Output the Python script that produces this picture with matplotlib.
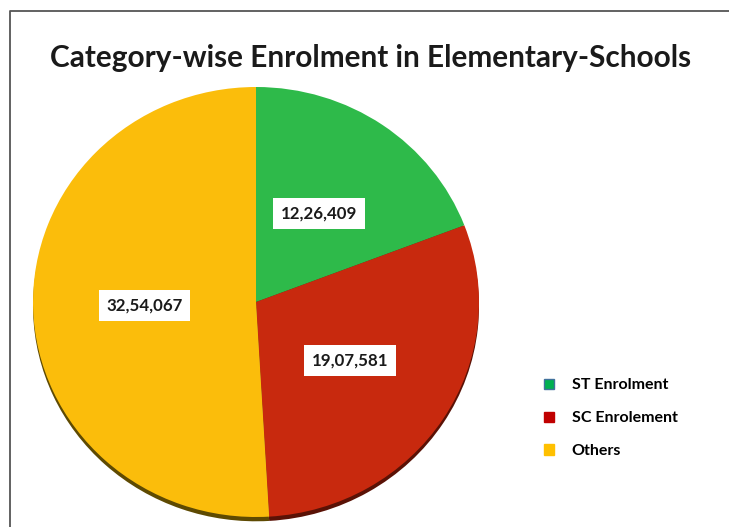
import numpy as np
import matplotlib.pyplot as plt
from matplotlib.patches import Patch
from matplotlib.lines import Line2D

# Dados do gráfico
categorias = ["ST Enrolment", "SC Enrolement", "Others"]
valores = [1226409, 1907581, 3254067]
cores = ["#2EBA4A", "#C8290E", "#FBBD0B"]
cores_legenda = ["#00B050", "#C00000", "#FFC000"]
bordas_legenda = ["#41719C", "#C00000", "#FFC000"]
cores_sombra = ["#1f5a24", "#5a1206", "#5e4a02"]

titulo = "Category-wise Enrolment in Elementary-Schools"


# Formato indiano de números (12,26,409)
def formato_indiano(n):
    s = str(int(n))
    if len(s) <= 3:
        return s
    ultimos = s[-3:]
    resto = s[:-3]
    grupos = []
    while len(resto) > 2:
        grupos.insert(0, resto[-2:])
        resto = resto[:-2]
    if resto:
        grupos.insert(0, resto)
    return ",".join(grupos) + "," + ultimos


plt.rcParams['font.family'] = ['Lato', 'DejaVu Sans']

W, H = 729, 527
fig = plt.figure(figsize=(W / 100, H / 100), dpi=100)

# Moldura (só esquerda e topo aparecem)
fig.add_artist(Line2D([10 / W, 10 / W, 1.05], [-0.05, 1 - 11 / H, 1 - 11 / H],
                      transform=fig.transFigure, color="#555555",
                      linewidth=1.3))

# Título
fig.text(371 / W, 1 - 58 / H, titulo, ha="center", va="center",
         fontsize=21.4, fontweight="bold", color="#1a1a1a")

# Eixo da pizza
ax = fig.add_axes([33 / W, 10 / H, 446 / W, 430 / H])

# Sombra
ax.pie(valores, colors=cores_sombra, startangle=90, counterclock=False,
       radius=1.0, center=(0.0, -0.02), wedgeprops=dict(linewidth=0),
       frame=True)

wedges, textos, autotextos = ax.pie(
    valores, colors=cores, startangle=90, counterclock=False,
    radius=1.0, center=(0.0, 0.0), autopct="%1.0f", pctdistance=0.5,
    wedgeprops=dict(linewidth=0), frame=True)
ax.set_xlim(-1, 1)
ax.set_ylim(-1.0, 1.0)
ax.set_aspect("auto")
ax.axis("off")

for t, v in zip(autotextos, valores):
    t.set_text(formato_indiano(v))
    t.set_fontsize(12.2)
    t.set_fontweight("bold")
    t.set_color("#1a1a1a")
    t.set_bbox(dict(facecolor="white", edgecolor="none", pad=5.5))

# Legenda
handles = [Patch(facecolor=c, edgecolor=b) for c, b in zip(cores_legenda, bordas_legenda)]
fig.legend(handles, categorias, loc="upper left",
           bbox_to_anchor=(530 / W, 1 - 364 / H), frameon=False,
           handlelength=0.6, handleheight=0.6, handletextpad=1.1,
           labelspacing=1.18,
           prop=dict(size=11.5, weight="bold"))

fig.savefig("out.png", dpi=100)
